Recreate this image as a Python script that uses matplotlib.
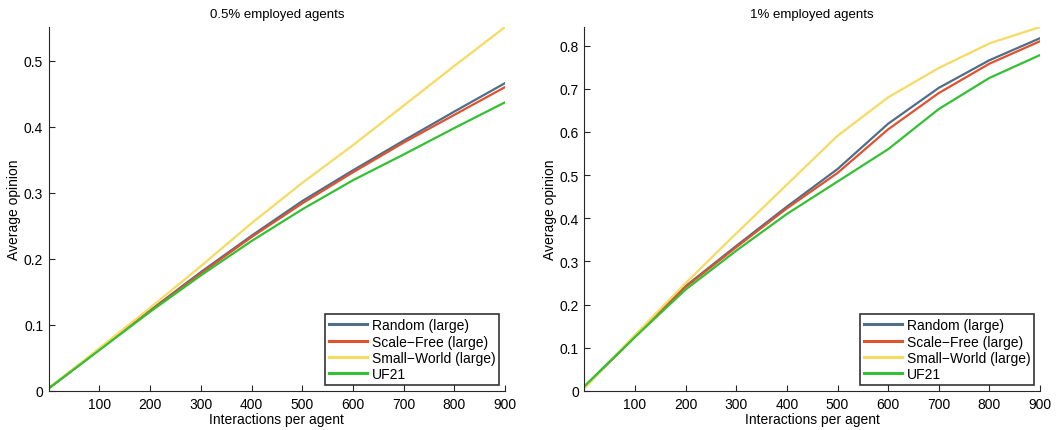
import numpy as np
import matplotlib
matplotlib.use("Agg")
import matplotlib.pyplot as plt

plt.rcParams["font.family"] = ["Liberation Sans", "DejaVu Sans"]

interactions = [0, 100, 200, 300, 400, 500, 600, 700, 800, 900]
series_names = ["Random (large)", "Scale\u2212Free (large)", "Small\u2212World (large)", "UF21"]
series_colors = ["#4f6e87", "#e2512e", "#f7da62", "#33c033"]

# 0.5% employed agents
half_random = [0.004, 0.063, 0.122, 0.180, 0.235, 0.2875, 0.334, 0.379, 0.423, 0.466]
half_scalefree = [0.004, 0.063, 0.121, 0.178, 0.233, 0.284, 0.331, 0.376, 0.418, 0.460]
half_smallworld = [0.004, 0.065, 0.126, 0.189, 0.254, 0.315, 0.372, 0.432, 0.492, 0.551]
half_uf21 = [0.004, 0.062, 0.120, 0.175, 0.227, 0.275, 0.319, 0.358, 0.398, 0.437]

# 1% employed agents
one_random = [0.010, 0.127, 0.243, 0.336, 0.427, 0.514, 0.619, 0.702, 0.766, 0.817]
one_scalefree = [0.008, 0.126, 0.241, 0.333, 0.423, 0.505, 0.606, 0.690, 0.758, 0.810]
one_smallworld = [0.006, 0.130, 0.250, 0.365, 0.478, 0.591, 0.680, 0.748, 0.805, 0.843]
one_uf21 = [0.011, 0.125, 0.235, 0.325, 0.410, 0.485, 0.560, 0.653, 0.725, 0.778]

panels = [
    ("0.5% employed agents", [half_random, half_scalefree, half_smallworld, half_uf21]),
    ("1% employed agents", [one_random, one_scalefree, one_smallworld, one_uf21]),
]

fig = plt.figure(figsize=(10.6, 4.31), dpi=100)
W, H = 1060, 431
positions = [
    [48.75 / W, (H - 392) / H, (505 - 48.75) / W, (392 - 28) / H],
    [584.4 / W, (H - 392) / H, (1040 - 584.4) / W, (392 - 28) / H],
]

for pos, (title, data) in zip(positions, panels):
    ax = fig.add_axes(pos)
    for values, name, color in zip(data, series_names, series_colors):
        ax.plot(interactions, values, color=color, linewidth=1.6, label=name)

    ax.set_xlim(0, 900)
    ax.set_ylim(0, max(max(v) for v in data))
    ax.set_xticks(interactions[1:])
    yt = np.arange(0, ax.get_ylim()[1] + 1e-9, 0.1)
    ax.set_yticks(yt)
    ax.set_yticklabels(["0" if t == 0 else f"{t:.1f}" for t in yt])

    for side in ["top", "right"]:
        ax.spines[side].set_visible(False)
    for side in ["left", "bottom"]:
        ax.spines[side].set_color("#262626")
        ax.spines[side].set_linewidth(0.8)
    ax.tick_params(direction="in", length=4, width=0.8, color="#262626",
                   labelsize=10, pad=4)

    ax.set_title(title, fontsize=9.5, pad=7.5)
    ax.set_xlabel("Interactions per agent", fontsize=10, labelpad=1)
    ax.set_ylabel("Average opinion", fontsize=10, labelpad=2)

    leg = ax.legend(loc="lower right", fontsize=10, frameon=True, fancybox=False,
                    borderaxespad=0.4, handlelength=2.7, handletextpad=0.35,
                    labelspacing=0.17, borderpad=0.3)
    leg.get_frame().set_edgecolor("black")
    leg.get_frame().set_linewidth(1.2)
    for line in leg.get_lines():
        line.set_linewidth(2.2)

fig.savefig("out.png", dpi=100)
